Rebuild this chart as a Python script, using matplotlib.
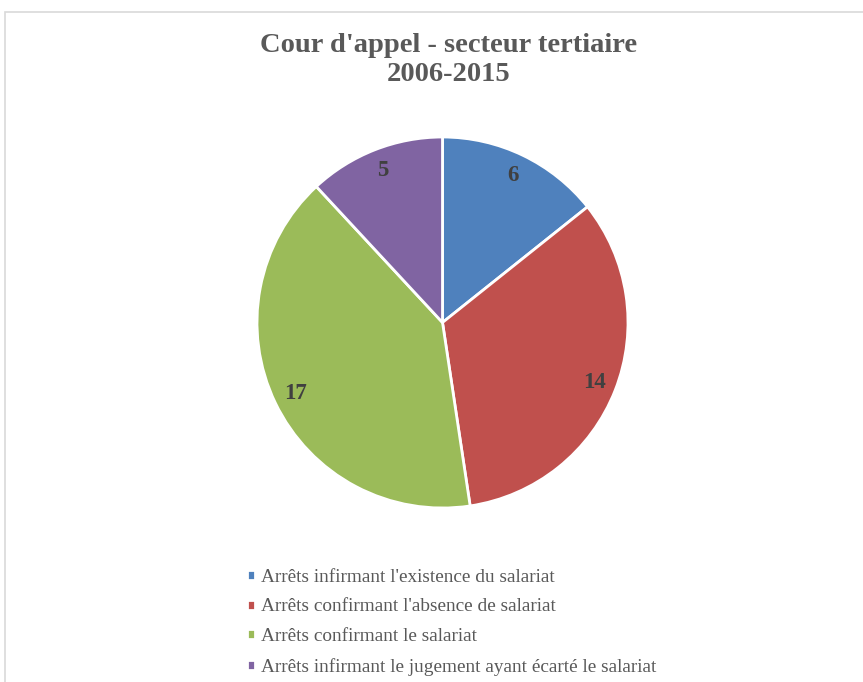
import matplotlib.pyplot as plt
from matplotlib.patches import Rectangle

# data
categories = ["Arrêts infirmant l'existence du salariat",
              "Arrêts confirmant l'absence de salariat",
              "Arrêts confirmant le salariat",
              "Arrêts infirmant le jugement ayant écarté le salariat"]
values = [6, 14, 17, 5]
colors = ["#4F81BD", "#C0504D", "#9BBB59", "#8064A2"]

W, H = 863, 682
fig = plt.figure(figsize=(W / 100, H / 100), dpi=100)
plt.rcParams['font.family'] = ['Liberation Serif', 'DejaVu Serif']

# light frame of the chart area
fig.patches.append(Rectangle((5 / W, -0.1), 1.2, 1 - 12 / H + 0.1, transform=fig.transFigure,
                             fill=False, edgecolor="#d9d9d9", linewidth=1.2))

fig.text(449 / W, 1 - 60 / H, "Cour d'appel - secteur tertiaire\n2006-2015",
         ha="center", va="center", fontsize=20.5, fontweight="bold", color="#595959",
         linespacing=1.18)

ax = fig.add_axes([257 / W, 1 - 508 / H, 371 / W, 371 / H])
total = sum(values)
wedges, texts, autotexts = ax.pie(values, colors=colors, startangle=90, counterclock=False,
                                  radius=1, autopct=lambda p: "%d" % round(p * total / 100),
                                  pctdistance=0.88,
                                  wedgeprops=dict(edgecolor="white", linewidth=2))
for t in autotexts:
    t.set_fontsize(16.5)
    t.set_fontweight("bold")
    t.set_color("#404040")
ax.set_xlim(-1.0, 1.0)
ax.set_ylim(-1.0, 1.0)
ax.set_aspect("equal")
ax.axis("off")

fig.legend(wedges, categories, loc="upper left", bbox_to_anchor=(237 / W, 1 - 559 / H),
           frameon=False, fontsize=13.9, handlelength=0.42, handleheight=0.42,
           handletextpad=0.3, labelspacing=0.66, labelcolor="#595959", borderpad=0)

fig.savefig("out.png", dpi=100, facecolor="white")
